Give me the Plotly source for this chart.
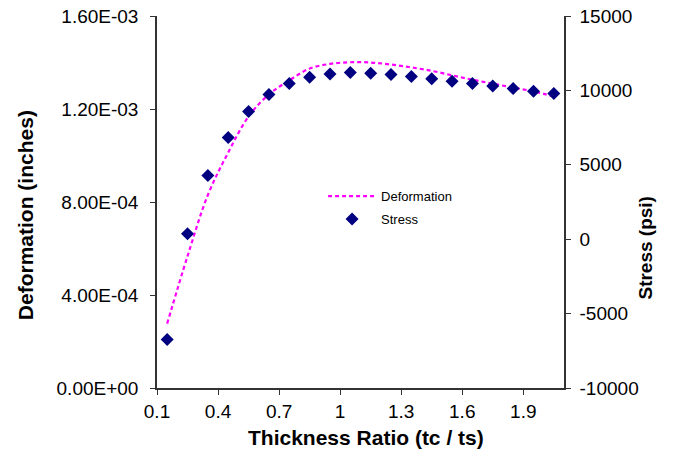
import plotly.graph_objects as go

# ---- data ----
thickness_ratio = [0.15, 0.25, 0.35, 0.45, 0.55, 0.65, 0.75, 0.85, 0.95, 1.05,
                   1.15, 1.25, 1.35, 1.45, 1.55, 1.65, 1.75, 1.85, 1.95, 2.05]
deformation = [2.77e-4, 5.67e-4, 8.30e-4, 1.013e-3, 1.168e-3, 1.263e-3, 1.323e-3,
               1.374e-3, 1.394e-3, 1.401e-3, 1.400e-3, 1.391e-3, 1.379e-3, 1.364e-3,
               1.345e-3, 1.326e-3, 1.309e-3, 1.292e-3, 1.276e-3, 1.254e-3]
stress = [-6740, 370, 4275, 6840, 8585, 9725, 10460, 10890, 11110, 11200,
          11160, 11065, 10930, 10775, 10620, 10460, 10290, 10125, 9950, 9790]

x_ticks = [0.1, 0.4, 0.7, 1.0, 1.3, 1.6, 1.9]
x_tick_labels = ["0.1", "0.4", "0.7", "1", "1.3", "1.6", "1.9"]
y1_ticks = [0, 4e-4, 8e-4, 1.2e-3, 1.6e-3]
y1_tick_labels = ["0.00E+00", "4.00E-04", "8.00E-04", "1.20E-03", "1.60E-03"]
y2_ticks = [-10000, -5000, 0, 5000, 10000, 15000]
y2_tick_labels = ["-10000", "-5000", "0", "5000", "10000", "15000"]

FONT = "Liberation Sans, Arial, sans-serif"
AXC = "#333333"

fig = go.Figure()
fig.add_trace(go.Scatter(
    x=thickness_ratio, y=deformation, name="Deformation", mode="lines",
    legendgroup="a",
    line=dict(color="#FF00FF", width=2.2, dash="4px,3px", shape="spline"),
    yaxis="y"))
fig.add_trace(go.Scatter(
    x=thickness_ratio, y=stress, name="Stress", mode="markers",
    legendgroup="b",
    marker=dict(symbol="diamond", color="#000080", size=10),
    yaxis="y2"))

axis_common = dict(showgrid=False, zeroline=False, showline=True, linecolor=AXC,
                   linewidth=1.5, ticks="outside", ticklen=5, tickcolor=AXC,
                   automargin=False, tickfont=dict(size=19, family=FONT))

fig.update_layout(
    width=683, height=457,
    margin=dict(l=157, r=119, t=16, b=69, pad=0, autoexpand=False),
    paper_bgcolor="white", plot_bgcolor="white",
    font=dict(family=FONT, color="black"),
    showlegend=True,
    legend=dict(x=0.408, y=0.556, xanchor="left", yanchor="top",
                font=dict(size=13, family=FONT), bgcolor="rgba(0,0,0,0)",
                itemwidth=48, traceorder="grouped", tracegroupgap=3),
    xaxis=dict(range=[0.1, 2.1], tickvals=x_ticks, ticktext=x_tick_labels,
               **axis_common),
    yaxis=dict(range=[0, 1.6e-3], tickvals=y1_ticks, ticktext=y1_tick_labels,
               ticklabelstandoff=8, **axis_common),
    yaxis2=dict(range=[-10000, 15000], tickvals=y2_ticks, ticktext=y2_tick_labels,
                overlaying="y", side="right", anchor="x", ticklabelstandoff=5,
                **axis_common),
    annotations=[
        dict(text="<b>Thickness Ratio (tc / ts)</b>", xref="paper", yref="paper",
             x=0.513, y=-0.133, showarrow=False, font=dict(size=21, family=FONT),
             xanchor="center", yanchor="middle"),
        dict(text="<b>Deformation (inches)</b>", xref="paper", yref="paper",
             x=-0.324, y=0.465, showarrow=False, textangle=-90,
             font=dict(size=21, family=FONT), xanchor="center", yanchor="middle"),
        dict(text="<b>Stress (psi)</b>", xref="paper", yref="paper",
             x=1.2, y=0.376, showarrow=False, textangle=-90,
             font=dict(size=19, family=FONT), xanchor="center", yanchor="middle"),
    ],
)

fig.write_html("out.html", config={"displayModeBar": False},
               post_script="document.body.style.margin='0';document.body.style.overflow='hidden';")
